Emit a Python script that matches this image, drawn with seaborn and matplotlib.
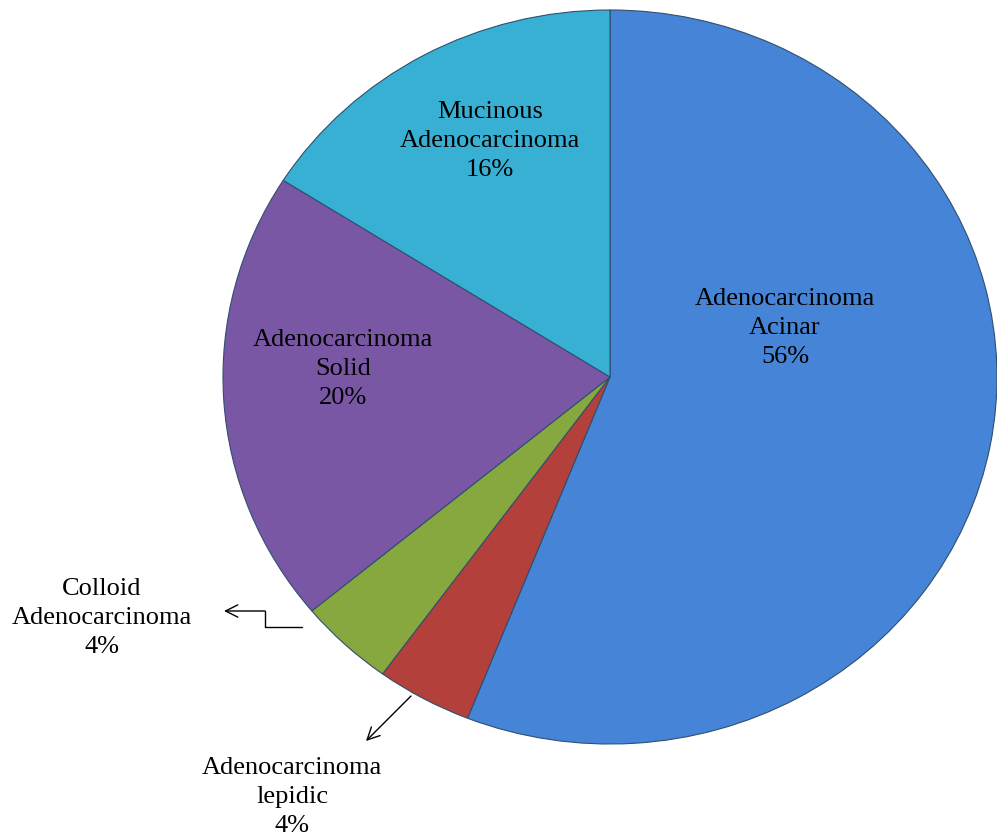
import matplotlib
matplotlib.use("Agg")
import matplotlib.pyplot as plt
import seaborn as sns

categories = ["Adenocarcinoma\nAcinar", "Adenocarcinoma\nlepidic", "Colloid\nAdenocarcinoma",
              "Adenocarcinoma\nSolid", "Mucinous\nAdenocarcinoma"]
values = [56, 4, 4, 20, 16]
colors = ["#4584D6", "#B3403B", "#87A83F", "#7A57A4", "#38B0D4"]

sns.set_theme(style="white")
plt.rcParams['font.family'] = ['Liberation Serif', 'DejaVu Serif']

W, H = 997, 837
fig = plt.figure(figsize=(W / 100, H / 100), dpi=100)
cx, cy, rx, ry = 610, 378, 387, 367
ax = fig.add_axes([(cx - rx) / W, (H - (cy + ry)) / H, 2 * rx / W, 2 * ry / H])

wedges, _ = ax.pie(values, colors=colors, startangle=90, counterclock=False,
                   radius=1.0, center=(0, 0), frame=False,
                   wedgeprops=dict(linewidth=0.8, edgecolor="#2f4f6f"))
ax.set_xlim(-1, 1)
ax.set_ylim(-1, 1)
ax.set_aspect('auto')
ax.axis('off')


def px(x, y):
    return ((x - cx) / rx, (cy - y) / ry)


fs = 19
ls = 1.4
inside = [(0, 785, 328), (3, 343, 369), (4, 490, 141)]
for i, x, y in inside:
    ax.text(*px(x, y), f"{categories[i]}\n{values[i]}%", ha='center', va='center',
            fontsize=fs, color='black', linespacing=ls, clip_on=False)

# Colloid
ax.text(*px(102, 618), f"{categories[2]}\n{values[2]}%", ha='center', va='center',
        fontsize=fs, color='black', linespacing=ls, clip_on=False)
p1, p2, p3 = px(302, 628), px(265, 628), px(265, 612)
ax.plot([p1[0], p2[0], p3[0]], [p1[1], p2[1], p3[1]], color='black', lw=1, clip_on=False)
ax.annotate("", xy=px(224, 612), xytext=p3, xycoords='data', textcoords='data',
            arrowprops=dict(arrowstyle='->', color='black', lw=1, shrinkA=0, shrinkB=0,
                            mutation_scale=22),
            annotation_clip=False)
# Lepidic
ax.text(*px(292, 797), f"{categories[1]}\n{values[1]}%", ha='center', va='center',
        fontsize=fs, color='black', linespacing=ls, clip_on=False)
ax.annotate("", xy=px(366, 742), xytext=px(411, 697), xycoords='data', textcoords='data',
            arrowprops=dict(arrowstyle='->', color='black', lw=1, shrinkA=0, shrinkB=0,
                            mutation_scale=22),
            annotation_clip=False)

fig.savefig("out.png", dpi=100, facecolor='white')
